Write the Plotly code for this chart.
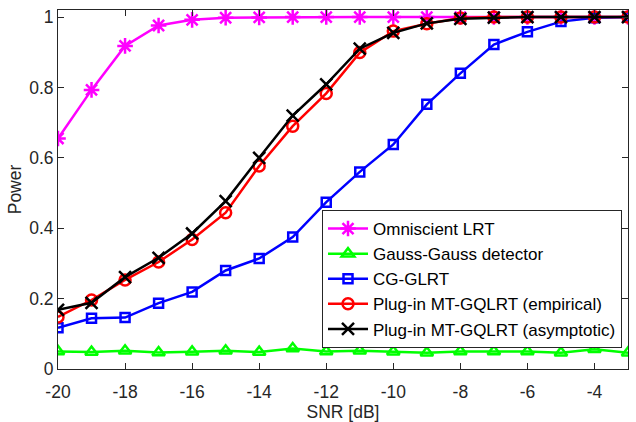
import plotly.graph_objects as go

snr = list(range(-20, -2))
x_tick_vals = [-20, -18, -16, -14, -12, -10, -8, -6, -4]
x_tick_text = ["-20", "-18", "-16", "-14", "-12", "-10", "-8", "-6", "-4"]
y_tick_vals = [0, 0.2, 0.4, 0.6, 0.8, 1]
y_tick_text = ["0", "0.2", "0.4", "0.6", "0.8", "1"]

omniscient = [0.655, 0.793, 0.918, 0.976, 0.992, 0.998, 0.999, 1.0, 1.0, 1.0, 1.0, 1.0, 1.0, 1.0, 1.0, 1.0, 1.0, 1.0]
gauss = [0.050, 0.048, 0.052, 0.047, 0.049, 0.052, 0.048, 0.058, 0.050, 0.052, 0.049, 0.046, 0.050, 0.050, 0.050, 0.046, 0.056, 0.046]
cg_glrt = [0.117, 0.144, 0.146, 0.187, 0.219, 0.280, 0.314, 0.375, 0.474, 0.560, 0.638, 0.752, 0.840, 0.922, 0.958, 0.987, 0.998, 1.0]
plugin_emp = [0.148, 0.196, 0.253, 0.304, 0.368, 0.444, 0.577, 0.690, 0.783, 0.899, 0.960, 0.981, 0.997, 1.0, 1.0, 1.0, 1.0, 1.0]
plugin_asym = [0.168, 0.188, 0.261, 0.316, 0.385, 0.477, 0.600, 0.720, 0.809, 0.910, 0.955, 0.982, 0.995, 0.998, 1.0, 1.0, 1.0, 1.0]

names = ["Omniscient LRT", "Gauss-Gauss detector", "CG-GLRT",
         "Plug-in MT-GQLRT (empirical)", "Plug-in MT-GQLRT (asymptotic)"]
series = [omniscient, gauss, cg_glrt, plugin_emp, plugin_asym]
colors = ["#FF00FF", "#00FF00", "#0000FF", "#FF0000", "#000000"]
symbols = ["asterisk-open", "triangle-up-open", "square-open", "circle-open", "x-thin-open"]
sizes = [13, 11, 9, 11, 12]

FONT = "Liberation Sans, Arial, sans-serif"

fig = go.Figure()
for nm, ys, c, s, sz in zip(names, series, colors, symbols, sizes):
    fig.add_trace(go.Scatter(
        x=snr, y=ys, name=nm, mode="lines+markers",
        line=dict(color=c, width=2.5),
        marker=dict(symbol=s, size=sz, color=c, line=dict(color=c, width=2.5)),
    ))

axis_common = dict(
    showline=True, linecolor="#262626", linewidth=1, mirror="allticks",
    ticks="inside", ticklen=6, tickcolor="#262626", tickwidth=1,
    showgrid=False, zeroline=False, automargin=False,
    ticklabeloverflow="allow",
    tickfont=dict(family=FONT, size=17.5, color="#262626"),
)

fig.update_layout(
    width=636, height=422,
    margin=dict(l=58, r=8, t=10, b=53),
    paper_bgcolor="white", plot_bgcolor="white",
    font=dict(family=FONT, size=17.5, color="#262626"),
    xaxis=dict(range=[-20, -3], tickvals=x_tick_vals, ticktext=x_tick_text,
               ticklabelstandoff=7,
               title=dict(text="SNR [dB]", font=dict(size=17.5), standoff=5), **axis_common),
    yaxis=dict(range=[0, 1.02], tickvals=y_tick_vals, ticktext=y_tick_text,
               title=dict(text="Power", font=dict(size=17.5), standoff=3), **axis_common),
    legend=dict(x=(622 - 58) / 570, y=(369 - 210) / 359, xanchor="right", yanchor="top",
                bgcolor="white", bordercolor="#262626", borderwidth=1,
                font=dict(family=FONT, size=17, color="#000000"), tracegroupgap=0,
                itemwidth=40),
    showlegend=True,
)

# remove the browser's default 8px body margin so the figure fills the window
fig.write_html("out.html", config={"displayModeBar": False},
               post_script="document.body.style.margin='0';")
